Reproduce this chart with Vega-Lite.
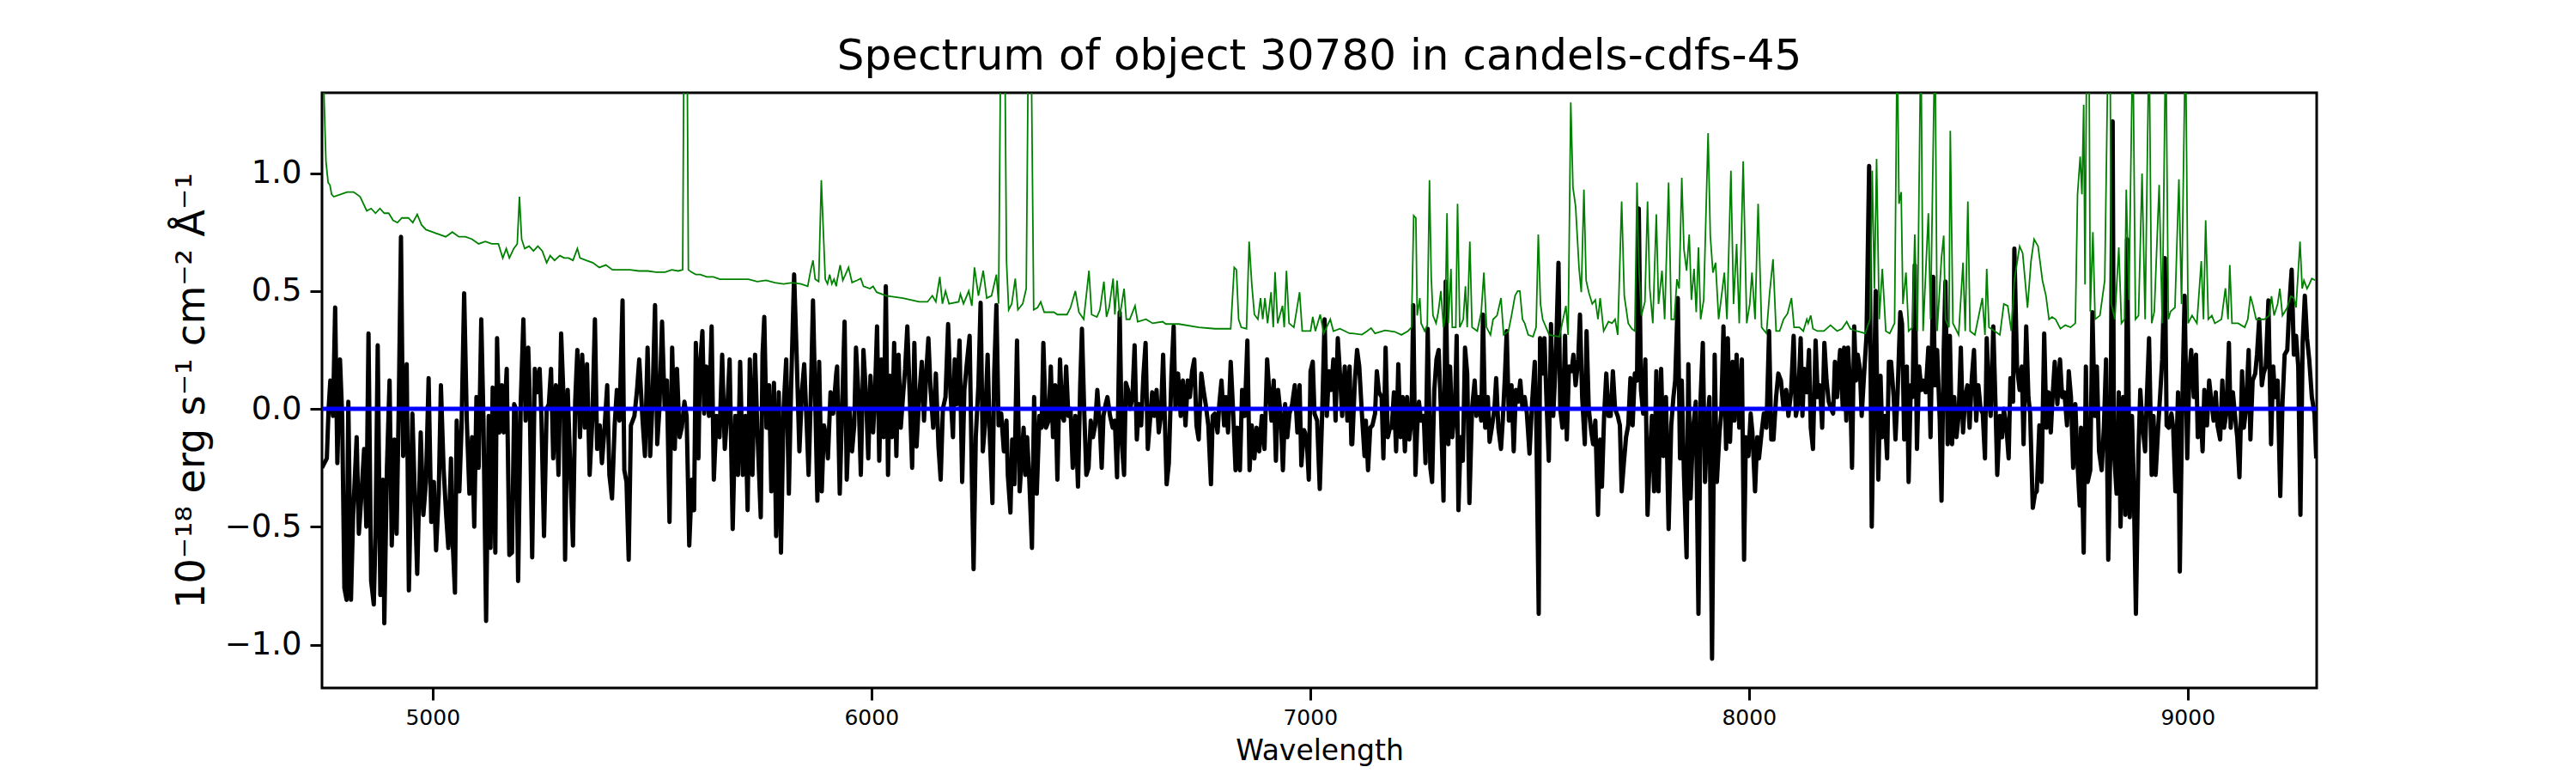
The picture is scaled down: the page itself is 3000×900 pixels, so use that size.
{
  "$schema": "https://vega.github.io/schema/vega-lite/v6.json",
  "autosize": "none",
  "width": 2323,
  "height": 693,
  "padding": {"left": 375, "top": 108, "right": 302, "bottom": 99},
  "background": "white",
  "title": {"text": "Spectrum of object 30780 in candels-cdfs-45", "font": "DejaVu Sans", "fontSize": 50, "fontWeight": "normal", "color": "black", "anchor": "middle", "offset": 17},
  "config": {
    "view": {"stroke": "black", "strokeWidth": 3},
    "axis": {"domain": false, "grid": false, "tickColor": "black", "tickWidth": 3, "tickSize": 14, "labelColor": "black", "labelFont": "DejaVu Sans", "titleFont": "DejaVu Sans", "titleColor": "black", "titleFontWeight": "normal"}
  },
  "datasets": {
    "obs": [
{"w":4748,"f":-0.25},{"w":4759,"f":-0.21},{"w":4763,"f":0.0},{"w":4767,"f":0.12},{"w":4773,"f":-0.03},{"w":4778,"f":0.43},{"w":4783,"f":-0.23},{"w":4789,"f":0.21},{"w":4794,"f":-0.03},{"w":4799,"f":-0.76},{"w":4804,"f":-0.81},{"w":4808,"f":0.03},{"w":4814,"f":-0.81},{"w":4819,"f":-0.45},{"w":4827,"f":-0.12},{"w":4832,"f":-0.53},{"w":4838,"f":-0.36},{"w":4844,"f":-0.17},{"w":4849,"f":-0.5},{"w":4854,"f":0.32},{"w":4860,"f":-0.73},{"w":4866,"f":-0.83},{"w":4870,"f":-0.53},{"w":4875,"f":0.27},{"w":4881,"f":-0.79},{"w":4887,"f":-0.3},{"w":4890,"f":-0.91},{"w":4896,"f":-0.25},{"w":4902,"f":0.12},{"w":4907,"f":-0.58},{"w":4913,"f":-0.13},{"w":4918,"f":-0.53},{"w":4923,"f":0.02},{"w":4928,"f":0.73},{"w":4933,"f":-0.2},{"w":4941,"f":0.19},{"w":4946,"f":-0.77},{"w":4954,"f":-0.02},{"w":4960,"f":-0.4},{"w":4965,"f":-0.7},{"w":4973,"f":-0.1},{"w":4979,"f":-0.45},{"w":4985,"f":-0.31},{"w":4991,"f":0.13},{"w":4997,"f":-0.48},{"w":5003,"f":-0.31},{"w":5008,"f":-0.6},{"w":5014,"f":-0.36},{"w":5019,"f":0.1},{"w":5025,"f":-0.25},{"w":5031,"f":-0.45},{"w":5036,"f":-0.59},{"w":5042,"f":-0.21},{"w":5045,"f":-0.53},{"w":5051,"f":-0.78},{"w":5055,"f":-0.05},{"w":5061,"f":-0.35},{"w":5066,"f":-0.08},{"w":5072,"f":0.49},{"w":5078,"f":-0.05},{"w":5084,"f":-0.36},{"w":5090,"f":-0.12},{"w":5095,"f":-0.5},{"w":5100,"f":0.05},{"w":5105,"f":-0.25},{"w":5111,"f":0.38},{"w":5116,"f":-0.05},{"w":5122,"f":-0.9},{"w":5128,"f":-0.03},{"w":5132,"f":-0.59},{"w":5137,"f":0.09},{"w":5143,"f":-0.61},{"w":5147,"f":0.3},{"w":5152,"f":-0.1},{"w":5158,"f":0.1},{"w":5162,"f":-0.1},{"w":5169,"f":0.17},{"w":5175,"f":-0.62},{"w":5181,"f":-0.61},{"w":5186,"f":0.02},{"w":5190,"f":0.0},{"w":5195,"f":-0.73},{"w":5201,"f":0.03},{"w":5207,"f":0.38},{"w":5212,"f":-0.05},{"w":5218,"f":0.26},{"w":5221,"f":0.08},{"w":5227,"f":-0.63},{"w":5233,"f":0.17},{"w":5239,"f":0.07},{"w":5244,"f":0.17},{"w":5248,"f":-0.03},{"w":5254,"f":-0.54},{"w":5260,"f":0.0},{"w":5265,"f":0.02},{"w":5270,"f":0.17},{"w":5275,"f":-0.21},{"w":5281,"f":0.1},{"w":5287,"f":-0.28},{"w":5293,"f":0.32},{"w":5299,"f":0.02},{"w":5302,"f":-0.64},{"w":5308,"f":0.08},{"w":5314,"f":-0.26},{"w":5320,"f":-0.58},{"w":5325,"f":0.03},{"w":5330,"f":0.25},{"w":5336,"f":-0.12},{"w":5341,"f":0.23},{"w":5347,"f":-0.08},{"w":5352,"f":0.19},{"w":5358,"f":-0.28},{"w":5364,"f":-0.05},{"w":5370,"f":0.38},{"w":5375,"f":-0.17},{"w":5381,"f":-0.07},{"w":5386,"f":-0.23},{"w":5392,"f":-0.08},{"w":5398,"f":0.1},{"w":5403,"f":-0.28},{"w":5409,"f":-0.38},{"w":5415,"f":-0.07},{"w":5420,"f":0.08},{"w":5426,"f":-0.05},{"w":5433,"f":0.46},{"w":5437,"f":-0.26},{"w":5442,"f":-0.31},{"w":5447,"f":-0.64},{"w":5452,"f":-0.07},{"w":5460,"f":-0.03},{"w":5466,"f":0.08},{"w":5471,"f":0.21},{"w":5478,"f":-0.03},{"w":5484,"f":-0.2},{"w":5490,"f":0.26},{"w":5496,"f":-0.2},{"w":5501,"f":0.02},{"w":5507,"f":0.44},{"w":5512,"f":-0.15},{"w":5517,"f":0.0},{"w":5523,"f":0.37},{"w":5529,"f":0.0},{"w":5534,"f":0.12},{"w":5540,"f":-0.48},{"w":5546,"f":0.26},{"w":5552,"f":-0.17},{"w":5557,"f":0.17},{"w":5563,"f":-0.12},{"w":5568,"f":-0.08},{"w":5574,"f":0.03},{"w":5579,"f":-0.03},{"w":5585,"f":-0.58},{"w":5591,"f":-0.3},{"w":5596,"f":-0.43},{"w":5600,"f":0.28},{"w":5606,"f":-0.21},{"w":5609,"f":0.17},{"w":5615,"f":0.33},{"w":5619,"f":-0.02},{"w":5624,"f":0.18},{"w":5630,"f":-0.03},{"w":5636,"f":0.35},{"w":5641,"f":-0.3},{"w":5647,"f":-0.03},{"w":5654,"f":-0.12},{"w":5660,"f":0.23},{"w":5666,"f":-0.17},{"w":5671,"f":-0.03},{"w":5677,"f":0.21},{"w":5684,"f":-0.51},{"w":5690,"f":-0.03},{"w":5696,"f":-0.28},{"w":5701,"f":0.2},{"w":5707,"f":-0.28},{"w":5713,"f":-0.03},{"w":5718,"f":-0.43},{"w":5723,"f":0.21},{"w":5729,"f":-0.28},{"w":5735,"f":0.23},{"w":5740,"f":-0.08},{"w":5748,"f":-0.46},{"w":5752,"f":0.23},{"w":5756,"f":0.39},{"w":5761,"f":-0.08},{"w":5767,"f":0.1},{"w":5772,"f":-0.35},{"w":5778,"f":0.11},{"w":5783,"f":-0.54},{"w":5789,"f":0.07},{"w":5794,"f":-0.61},{"w":5800,"f":0.0},{"w":5806,"f":0.21},{"w":5812,"f":-0.36},{"w":5817,"f":0.08},{"w":5824,"f":0.57},{"w":5830,"f":0.21},{"w":5836,"f":-0.18},{"w":5842,"f":0.08},{"w":5847,"f":0.19},{"w":5853,"f":-0.08},{"w":5857,"f":-0.28},{"w":5862,"f":0.05},{"w":5867,"f":0.46},{"w":5872,"f":0.05},{"w":5877,"f":-0.39},{"w":5881,"f":0.2},{"w":5887,"f":-0.35},{"w":5892,"f":-0.07},{"w":5898,"f":-0.13},{"w":5901,"f":-0.21},{"w":5907,"f":0.07},{"w":5913,"f":-0.02},{"w":5920,"f":0.15},
{"w":5922,"f":0.18},{"w":5928,"f":-0.36},{"w":5933,"f":-0.02},{"w":5939,"f":0.37},{"w":5944,"f":-0.3},{"w":5950,"f":0.0},{"w":5956,"f":-0.18},{"w":5961,"f":-0.07},{"w":5965,"f":0.26},{"w":5971,"f":0.05},{"w":5976,"f":-0.28},{"w":5982,"f":0.25},{"w":5988,"f":0.05},{"w":5993,"f":-0.21},{"w":5998,"f":0.14},{"w":6004,"f":-0.1},{"w":6008,"f":0.05},{"w":6013,"f":0.35},{"w":6018,"f":-0.22},{"w":6023,"f":0.21},{"w":6028,"f":-0.12},{"w":6033,"f":0.52},{"w":6038,"f":-0.28},{"w":6042,"f":0.14},{"w":6047,"f":-0.12},{"w":6052,"f":0.28},{"w":6057,"f":-0.2},{"w":6062,"f":0.23},{"w":6067,"f":-0.08},{"w":6072,"f":0.05},{"w":6077,"f":0.17},{"w":6082,"f":0.35},{"w":6087,"f":0.08},{"w":6093,"f":-0.25},{"w":6098,"f":0.28},{"w":6103,"f":-0.16},{"w":6109,"f":0.05},{"w":6115,"f":0.2},{"w":6120,"f":-0.05},{"w":6126,"f":0.18},{"w":6130,"f":0.3},{"w":6135,"f":0.08},{"w":6141,"f":-0.08},{"w":6147,"f":0.15},{"w":6153,"f":-0.16},{"w":6158,"f":-0.3},{"w":6163,"f":0.0},{"w":6169,"f":0.05},{"w":6175,"f":0.36},{"w":6180,"f":0.08},{"w":6186,"f":-0.12},{"w":6190,"f":0.21},{"w":6195,"f":0.02},{"w":6201,"f":0.29},{"w":6207,"f":-0.31},{"w":6212,"f":0.08},{"w":6218,"f":0.2},{"w":6224,"f":0.31},{"w":6229,"f":-0.28},{"w":6233,"f":-0.68},{"w":6238,"f":-0.12},{"w":6244,"f":0.1},{"w":6249,"f":0.45},{"w":6254,"f":-0.18},{"w":6259,"f":-0.07},{"w":6265,"f":0.23},{"w":6270,"f":-0.12},{"w":6276,"f":-0.4},{"w":6280,"f":0.15},{"w":6285,"f":0.44},{"w":6290,"f":-0.07},{"w":6296,"f":-0.02},{"w":6302,"f":-0.18},{"w":6308,"f":-0.05},{"w":6311,"f":-0.28},{"w":6317,"f":-0.44},{"w":6321,"f":-0.13},{"w":6326,"f":-0.32},{"w":6332,"f":0.29},{"w":6338,"f":-0.35},{"w":6341,"f":-0.26},{"w":6347,"f":-0.08},{"w":6351,"f":-0.28},{"w":6355,"f":-0.12},{"w":6360,"f":-0.3},{"w":6366,"f":-0.59},{"w":6371,"f":0.05},{"w":6377,"f":-0.36},{"w":6383,"f":-0.03},{"w":6388,"f":-0.08},{"w":6392,"f":0.28},{"w":6398,"f":-0.08},{"w":6404,"f":-0.05},{"w":6409,"f":0.18},{"w":6414,"f":-0.12},{"w":6419,"f":0.1},{"w":6424,"f":-0.3},{"w":6430,"f":0.21},{"w":6435,"f":-0.03},{"w":6439,"f":-0.05},{"w":6444,"f":0.18},{"w":6449,"f":-0.03},{"w":6454,"f":0.0},{"w":6459,"f":-0.25},{"w":6465,"f":-0.03},{"w":6471,"f":-0.33},{"w":6476,"f":0.1},{"w":6480,"f":0.34},{"w":6485,"f":0.0},{"w":6490,"f":-0.28},{"w":6495,"f":-0.25},{"w":6500,"f":-0.05},{"w":6505,"f":-0.12},{"w":6510,"f":-0.07},{"w":6515,"f":0.08},{"w":6521,"f":-0.08},{"w":6525,"f":-0.25},{"w":6529,"f":-0.03},{"w":6534,"f":0.02},{"w":6538,"f":0.05},{"w":6544,"f":-0.03},{"w":6550,"f":-0.08},{"w":6555,"f":-0.05},{"w":6560,"f":-0.29},{"w":6566,"f":0.41},{"w":6571,"f":-0.15},{"w":6576,"f":-0.28},{"w":6580,"f":0.11},{"w":6585,"f":0.08},{"w":6590,"f":0.0},{"w":6595,"f":0.05},{"w":6600,"f":0.27},{"w":6605,"f":-0.13},{"w":6610,"f":0.02},{"w":6615,"f":-0.07},{"w":6620,"f":0.14},{"w":6625,"f":0.28},{"w":6630,"f":-0.17},{"w":6635,"f":-0.05},{"w":6640,"f":0.07},{"w":6645,"f":-0.03},{"w":6650,"f":0.08},{"w":6655,"f":-0.1},{"w":6660,"f":-0.03},{"w":6665,"f":0.23},{"w":6669,"f":-0.05},{"w":6673,"f":-0.32},{"w":6678,"f":-0.23},{"w":6684,"f":0.15},{"w":6689,"f":0.35},{"w":6693,"f":0.0},{"w":6699,"f":0.15},{"w":6705,"f":-0.03},{"w":6710,"f":0.12},{"w":6716,"f":-0.07},{"w":6721,"f":0.12},{"w":6726,"f":0.05},{"w":6731,"f":0.16},{"w":6736,"f":0.21},{"w":6741,"f":-0.07},{"w":6746,"f":-0.13},{"w":6752,"f":0.15},{"w":6757,"f":0.08},{"w":6762,"f":0.02},{"w":6768,"f":-0.07},{"w":6774,"f":-0.32},{"w":6778,"f":-0.03},{"w":6783,"f":-0.02},{"w":6789,"f":-0.1},{"w":6793,"f":0.02},{"w":6798,"f":0.12},{"w":6804,"f":-0.07},{"w":6808,"f":0.05},{"w":6813,"f":-0.1},{"w":6819,"f":0.2},{"w":6825,"f":-0.03},{"w":6830,"f":-0.26},{"w":6834,"f":-0.08},{"w":6840,"f":-0.26},{"w":6845,"f":0.08},{"w":6851,"f":-0.03},{"w":6857,"f":0.29},{"w":6862,"f":-0.26},{"w":6867,"f":-0.07},{"w":6873,"f":-0.21},{"w":6878,"f":-0.08},{"w":6884,"f":-0.18},{"w":6890,"f":-0.03},{"w":6896,"f":-0.17},{"w":6902,"f":0.21},{"w":6907,"f":0.07},{"w":6912,"f":-0.05},{"w":6917,"f":0.12},{"w":6922,"f":-0.22},{"w":6927,"f":0.08},{"w":6933,"f":-0.03},{"w":6938,"f":-0.26},{"w":6943,"f":0.02},{"w":6948,"f":-0.12},{"w":6953,"f":-0.02},{"w":6959,"f":0.02},{"w":6965,"f":0.1},{"w":6971,"f":-0.1},{"w":6976,"f":0.1},{"w":6980,"f":-0.24},{"w":6986,"f":-0.09},{"w":6992,"f":-0.12},{"w":6997,"f":-0.3},{"w":7001,"f":0.16},{"w":7006,"f":0.2},{"w":7010,"f":-0.02},{"w":7016,"f":-0.05},{"w":7022,"f":-0.34},{"w":7027,"f":-0.05},{"w":7033,"f":0.38},{"w":7038,"f":-0.03},{"w":7043,"f":0.16},{"w":7048,"f":0.08},{"w":7053,"f":0.21},{"w":7058,"f":-0.05},{"w":7063,"f":0.3},{"w":7068,"f":0.15},{"w":7073,"f":-0.03},{"w":7079,"f":0.18},{"w":7085,"f":-0.05},{"w":7090,"f":0.18},{"w":7094,"f":-0.15},
{"w":7096,"f":-0.15},{"w":7102,"f":0.12},{"w":7107,"f":0.25},{"w":7112,"f":0.18},{"w":7118,"f":-0.02},{"w":7124,"f":-0.2},{"w":7127,"f":-0.05},{"w":7132,"f":-0.26},{"w":7137,"f":-0.08},{"w":7142,"f":-0.07},{"w":7148,"f":-0.02},{"w":7152,"f":0.16},{"w":7157,"f":0.07},{"w":7163,"f":0.05},{"w":7167,"f":-0.21},{"w":7172,"f":0.26},{"w":7177,"f":-0.12},{"w":7182,"f":-0.08},{"w":7186,"f":-0.08},{"w":7191,"f":0.07},{"w":7196,"f":-0.18},{"w":7201,"f":0.19},{"w":7206,"f":-0.12},{"w":7211,"f":0.05},{"w":7216,"f":-0.18},{"w":7221,"f":0.05},{"w":7226,"f":-0.13},{"w":7231,"f":-0.05},{"w":7235,"f":0.44},{"w":7240,"f":-0.28},{"w":7244,"f":-0.08},{"w":7248,"f":0.03},{"w":7253,"f":-0.05},{"w":7259,"f":-0.03},{"w":7263,"f":-0.23},{"w":7268,"f":0.34},{"w":7274,"f":-0.25},{"w":7278,"f":-0.31},{"w":7283,"f":0.08},{"w":7288,"f":0.21},{"w":7293,"f":0.25},{"w":7298,"f":0.0},{"w":7304,"f":-0.39},{"w":7309,"f":0.54},{"w":7315,"f":-0.15},{"w":7319,"f":0.18},{"w":7324,"f":-0.12},{"w":7330,"f":0.0},{"w":7334,"f":0.31},{"w":7338,"f":-0.43},{"w":7343,"f":-0.12},{"w":7348,"f":-0.22},{"w":7353,"f":0.26},{"w":7358,"f":0.15},{"w":7363,"f":-0.4},{"w":7369,"f":0.0},{"w":7375,"f":0.12},{"w":7379,"f":-0.03},{"w":7384,"f":0.05},{"w":7390,"f":-0.05},{"w":7394,"f":0.4},{"w":7399,"f":-0.08},{"w":7405,"f":0.05},{"w":7409,"f":-0.14},{"w":7414,"f":-0.08},{"w":7420,"f":0.0},{"w":7424,"f":0.13},{"w":7429,"f":-0.08},{"w":7435,"f":-0.17},{"w":7439,"f":-0.05},{"w":7444,"f":0.14},{"w":7448,"f":0.33},{"w":7453,"f":-0.05},{"w":7459,"f":0.1},{"w":7464,"f":-0.18},{"w":7469,"f":0.08},{"w":7474,"f":0.03},{"w":7479,"f":0.12},{"w":7484,"f":0.0},{"w":7489,"f":0.05},{"w":7494,"f":-0.02},{"w":7500,"f":-0.19},{"w":7506,"f":0.03},{"w":7512,"f":0.2},{"w":7515,"f":0.0},{"w":7521,"f":-0.87},{"w":7524,"f":0.3},{"w":7530,"f":0.15},{"w":7534,"f":0.3},{"w":7539,"f":0.02},{"w":7544,"f":-0.22},{"w":7549,"f":0.36},{"w":7554,"f":-0.03},{"w":7560,"f":0.21},{"w":7566,"f":0.62},{"w":7570,"f":0.0},{"w":7575,"f":-0.08},{"w":7581,"f":0.31},{"w":7585,"f":-0.13},{"w":7590,"f":0.18},{"w":7596,"f":0.16},{"w":7600,"f":0.23},{"w":7605,"f":0.1},{"w":7611,"f":0.21},{"w":7615,"f":0.4},{"w":7620,"f":0.05},{"w":7626,"f":-0.15},{"w":7630,"f":0.33},{"w":7635,"f":0.0},{"w":7641,"f":-0.1},{"w":7645,"f":-0.15},{"w":7650,"f":-0.05},{"w":7656,"f":-0.45},{"w":7661,"f":-0.13},{"w":7665,"f":-0.33},{"w":7670,"f":-0.03},{"w":7675,"f":0.15},{"w":7680,"f":-0.03},{"w":7685,"f":-0.03},{"w":7690,"f":0.16},{"w":7695,"f":0.0},{"w":7701,"f":-0.03},{"w":7706,"f":-0.07},{"w":7710,"f":-0.35},{"w":7715,"f":-0.23},{"w":7720,"f":-0.12},{"w":7725,"f":-0.07},{"w":7730,"f":0.13},{"w":7735,"f":-0.07},{"w":7740,"f":0.15},{"w":7745,"f":0.12},{"w":7749,"f":0.85},{"w":7754,"f":0.08},{"w":7759,"f":-0.02},{"w":7764,"f":0.21},{"w":7769,"f":-0.45},{"w":7774,"f":-0.21},{"w":7779,"f":-0.03},{"w":7784,"f":-0.35},{"w":7789,"f":0.16},{"w":7794,"f":-0.35},{"w":7800,"f":0.17},{"w":7805,"f":-0.2},{"w":7811,"f":0.05},{"w":7817,"f":-0.51},{"w":7823,"f":-0.07},{"w":7828,"f":0.05},{"w":7832,"f":0.12},{"w":7838,"f":0.47},{"w":7843,"f":-0.21},{"w":7847,"f":0.12},{"w":7852,"f":-0.28},{"w":7858,"f":-0.63},{"w":7862,"f":0.19},{"w":7867,"f":-0.38},{"w":7873,"f":-0.08},{"w":7879,"f":0.03},{"w":7885,"f":-0.87},{"w":7890,"f":0.05},{"w":7895,"f":0.28},{"w":7900,"f":-0.31},{"w":7905,"f":-0.07},{"w":7910,"f":0.05},{"w":7916,"f":-1.06},{"w":7922,"f":0.23},{"w":7927,"f":-0.31},{"w":7933,"f":-0.1},{"w":7937,"f":-0.02},{"w":7942,"f":0.35},{"w":7948,"f":-0.17},{"w":7952,"f":0.3},{"w":7957,"f":-0.14},{"w":7963,"f":0.2},{"w":7967,"f":-0.05},{"w":7972,"f":0.23},{"w":7978,"f":-0.08},{"w":7984,"f":0.21},{"w":7989,"f":-0.64},{"w":7993,"f":-0.12},{"w":7999,"f":-0.2},{"w":8004,"f":-0.02},{"w":8008,"f":-0.1},{"w":8014,"f":-0.35},{"w":8019,"f":-0.12},{"w":8023,"f":-0.21},{"w":8029,"f":-0.1},{"w":8034,"f":-0.02},{"w":8040,"f":-0.08},{"w":8046,"f":0.33},{"w":8051,"f":-0.13},{"w":8056,"f":-0.13},{"w":8062,"f":0.05},{"w":8067,"f":0.15},{"w":8073,"f":0.12},{"w":8079,"f":0.0},{"w":8085,"f":0.08},{"w":8090,"f":-0.03},{"w":8096,"f":0.07},{"w":8102,"f":0.31},{"w":8107,"f":-0.03},{"w":8112,"f":0.02},{"w":8118,"f":0.3},{"w":8122,"f":-0.03},
{"w":8126,"f":0.17},{"w":8132,"f":0.07},{"w":8137,"f":0.25},{"w":8141,"f":-0.08},{"w":8146,"f":-0.17},{"w":8152,"f":0.29},{"w":8157,"f":0.05},{"w":8162,"f":0.1},{"w":8167,"f":-0.08},{"w":8172,"f":0.28},{"w":8177,"f":0.12},{"w":8182,"f":0.03},{"w":8187,"f":0.0},{"w":8192,"f":-0.02},{"w":8196,"f":0.2},{"w":8201,"f":0.05},{"w":8205,"f":0.18},{"w":8208,"f":0.25},{"w":8214,"f":0.0},{"w":8217,"f":0.26},{"w":8222,"f":-0.05},{"w":8226,"f":0.26},{"w":8231,"f":0.08},{"w":8235,"f":-0.25},{"w":8240,"f":0.35},{"w":8244,"f":0.12},{"w":8248,"f":0.23},{"w":8253,"f":0.17},{"w":8257,"f":-0.03},{"w":8262,"f":0.13},{"w":8268,"f":0.31},{"w":8274,"f":1.03},{"w":8280,"f":-0.5},{"w":8285,"f":0.08},{"w":8289,"f":0.5},{"w":8295,"f":-0.3},{"w":8300,"f":0.14},{"w":8304,"f":-0.12},{"w":8310,"f":-0.03},{"w":8315,"f":-0.21},{"w":8319,"f":0.2},{"w":8324,"f":0.2},{"w":8330,"f":0.05},{"w":8334,"f":-0.13},{"w":8339,"f":0.07},{"w":8345,"f":0.41},{"w":8349,"f":0.36},{"w":8354,"f":-0.13},{"w":8360,"f":0.18},{"w":8364,"f":-0.31},{"w":8369,"f":0.1},{"w":8373,"f":0.05},{"w":8378,"f":0.61},{"w":8383,"f":-0.17},{"w":8388,"f":0.18},{"w":8393,"f":0.08},{"w":8398,"f":0.12},{"w":8403,"f":0.07},{"w":8409,"f":0.26},{"w":8414,"f":-0.12},{"w":8420,"f":0.56},{"w":8424,"f":0.1},{"w":8429,"f":0.25},{"w":8435,"f":-0.05},{"w":8439,"f":-0.39},{"w":8444,"f":0.25},{"w":8448,"f":0.54},{"w":8453,"f":-0.15},{"w":8458,"f":0.31},{"w":8463,"f":-0.15},{"w":8468,"f":0.05},{"w":8473,"f":-0.12},{"w":8478,"f":-0.03},{"w":8483,"f":0.26},{"w":8488,"f":-0.1},{"w":8493,"f":0.05},{"w":8498,"f":0.1},{"w":8503,"f":-0.08},{"w":8508,"f":0.13},{"w":8513,"f":0.25},{"w":8518,"f":-0.05},{"w":8523,"f":0.1},{"w":8528,"f":0.0},{"w":8533,"f":-0.02},{"w":8538,"f":-0.21},{"w":8542,"f":0.3},{"w":8547,"f":0.05},{"w":8551,"f":-0.03},{"w":8557,"f":0.35},{"w":8562,"f":0.02},{"w":8566,"f":-0.28},{"w":8572,"f":-0.03},{"w":8577,"f":-0.12},{"w":8581,"f":0.0},{"w":8587,"f":-0.08},{"w":8592,"f":-0.21},{"w":8596,"f":0.13},{"w":8602,"f":0.03},{"w":8605,"f":0.68},{"w":8611,"f":0.18},{"w":8617,"f":0.08},{"w":8622,"f":0.18},{"w":8626,"f":-0.15},{"w":8632,"f":0.35},{"w":8637,"f":0.05},{"w":8641,"f":-0.02},{"w":8647,"f":-0.42},{"w":8652,"f":-0.36},{"w":8656,"f":-0.35},{"w":8662,"f":-0.07},{"w":8667,"f":-0.31},{"w":8673,"f":0.32},{"w":8678,"f":-0.08},{"w":8683,"f":0.07},{"w":8688,"f":-0.1},{"w":8693,"f":0.08},{"w":8697,"f":0.2},{"w":8703,"f":0.02},{"w":8709,"f":0.21},{"w":8714,"f":0.05},{"w":8719,"f":0.07},{"w":8725,"f":-0.07},{"w":8729,"f":0.16},{"w":8734,"f":0.05},{"w":8739,"f":-0.25},{"w":8744,"f":0.02},{"w":8749,"f":-0.23},{"w":8754,"f":-0.41},{"w":8757,"f":-0.08},{"w":8763,"f":-0.61},{"w":8768,"f":0.18},{"w":8772,"f":-0.31},{"w":8778,"f":-0.26},{"w":8783,"f":0.41},{"w":8788,"f":-0.03},{"w":8793,"f":0.18},{"w":8798,"f":-0.18},{"w":8804,"f":-0.26},{"w":8809,"f":-0.08},{"w":8814,"f":0.21},{"w":8819,"f":-0.64},{"w":8824,"f":-0.15},{"w":8829,"f":1.22},{"w":8832,"f":-0.18},{"w":8838,"f":-0.36},{"w":8843,"f":0.07},{"w":8847,"f":-0.5},{"w":8853,"f":0.05},{"w":8858,"f":-0.45},{"w":8862,"f":0.72},{"w":8868,"f":-0.46},{"w":8873,"f":-0.03},{"w":8877,"f":-0.31},{"w":8882,"f":-0.87},{"w":8888,"f":-0.17},{"w":8892,"f":0.08},{"w":8897,"f":-0.07},{"w":8903,"f":-0.18},{"w":8907,"f":0.05},{"w":8912,"f":0.3},{"w":8918,"f":-0.28},{"w":8922,"f":-0.03},{"w":8927,"f":-0.28},{"w":8933,"f":-0.07},{"w":8937,"f":0.05},{"w":8942,"f":0.21},{"w":8948,"f":0.64},{"w":8952,"f":-0.07},{"w":8957,"f":-0.08},{"w":8963,"f":-0.02},{"w":8967,"f":-0.08},{"w":8972,"f":-0.35},{"w":8978,"f":0.07},{"w":8982,"f":-0.69},{"w":8987,"f":-0.05},{"w":8993,"f":0.48},{"w":8999,"f":-0.21},{"w":9004,"f":0.16},{"w":9008,"f":0.25},{"w":9014,"f":0.05},{"w":9019,"f":0.23},{"w":9023,"f":-0.12},{"w":9029,"f":0.0},{"w":9034,"f":-0.18},{"w":9038,"f":0.08},{"w":9044,"f":-0.07},{"w":9049,"f":0.12},{"w":9053,"f":0.05},{"w":9059,"f":-0.05},{"w":9064,"f":0.07},{"w":9068,"f":-0.07},{"w":9074,"f":-0.13},{"w":9079,"f":0.12},{"w":9083,"f":-0.08},{"w":9088,"f":-0.02},{"w":9094,"f":0.28},{"w":9098,"f":-0.08},{"w":9103,"f":0.07},{"w":9109,"f":-0.05},{"w":9113,"f":-0.12},{"w":9118,"f":-0.29},{"w":9124,"f":0.16},{"w":9128,"f":-0.08},{"w":9133,"f":0.0},{"w":9139,"f":0.25},{"w":9143,"f":-0.13},{"w":9148,"f":0.12},{"w":9154,"f":0.15},{"w":9158,"f":0.23},{"w":9163,"f":0.38},{"w":9169,"f":0.1},{"w":9173,"f":0.15},{"w":9178,"f":0.18},{"w":9184,"f":0.46},{"w":9190,"f":-0.15},{"w":9195,"f":0.18},{"w":9199,"f":0.05},{"w":9205,"f":0.12},{"w":9211,"f":-0.37},{"w":9216,"f":0.02},{"w":9221,"f":0.23},{"w":9227,"f":0.25},{"w":9232,"f":0.45},{"w":9237,"f":0.59},{"w":9242,"f":0.23},{"w":9247,"f":0.31},{"w":9252,"f":0.18},{"w":9257,"f":-0.45},{"w":9262,"f":0.28},{"w":9267,"f":0.48},{"w":9272,"f":0.3},{"w":9277,"f":0.21},{"w":9283,"f":0.05},{"w":9289,"f":-0.02},{"w":9293,"f":-0.21}
    ],
    "model": [
{"w":4749,"f":1.6},{"w":4753,"f":1.3},{"w":4757,"f":1.05},{"w":4762,"f":0.96},{"w":4766,"f":0.95},{"w":4770,"f":0.91},{"w":4775,"f":0.9},{"w":4790,"f":0.91},{"w":4805,"f":0.92},{"w":4820,"f":0.92},{"w":4835,"f":0.9},{"w":4850,"f":0.84},{"w":4860,"f":0.85},{"w":4870,"f":0.83},{"w":4880,"f":0.85},{"w":4890,"f":0.83},{"w":4900,"f":0.83},{"w":4910,"f":0.8},{"w":4920,"f":0.79},{"w":4930,"f":0.81},{"w":4945,"f":0.81},{"w":4955,"f":0.79},{"w":4965,"f":0.825},{"w":4975,"f":0.78},{"w":4985,"f":0.76},{"w":5000,"f":0.75},{"w":5015,"f":0.74},{"w":5030,"f":0.73},{"w":5045,"f":0.75},{"w":5060,"f":0.73},{"w":5075,"f":0.73},{"w":5090,"f":0.72},{"w":5105,"f":0.7},{"w":5120,"f":0.71},{"w":5135,"f":0.7},{"w":5150,"f":0.7},{"w":5160,"f":0.64},{"w":5168,"f":0.68},{"w":5175,"f":0.64},{"w":5185,"f":0.68},{"w":5193,"f":0.7},{"w":5198,"f":0.9},{"w":5203,"f":0.72},{"w":5210,"f":0.68},{"w":5220,"f":0.69},{"w":5230,"f":0.67},{"w":5240,"f":0.69},{"w":5250,"f":0.67},{"w":5260,"f":0.62},{"w":5268,"f":0.65},{"w":5278,"f":0.63},{"w":5290,"f":0.65},{"w":5300,"f":0.64},{"w":5310,"f":0.64},{"w":5320,"f":0.63},{"w":5330,"f":0.68},{"w":5336,"f":0.64},{"w":5350,"f":0.63},{"w":5365,"f":0.62},{"w":5380,"f":0.6},{"w":5395,"f":0.61},{"w":5410,"f":0.59},{"w":5430,"f":0.59},{"w":5450,"f":0.59},{"w":5470,"f":0.585},{"w":5490,"f":0.585},{"w":5510,"f":0.58},{"w":5530,"f":0.58},{"w":5545,"f":0.59},{"w":5560,"f":0.585},{"w":5570,"f":0.59},{"w":5573,"f":1.6},{"w":5580,"f":1.6},{"w":5583,"f":0.59},{"w":5590,"f":0.58},{"w":5600,"f":0.57},{"w":5610,"f":0.57},{"w":5625,"f":0.56},{"w":5640,"f":0.56},{"w":5655,"f":0.55},{"w":5675,"f":0.55},{"w":5700,"f":0.55},{"w":5720,"f":0.55},{"w":5740,"f":0.54},{"w":5760,"f":0.545},{"w":5780,"f":0.535},{"w":5800,"f":0.53},{"w":5820,"f":0.535},{"w":5840,"f":0.53},{"w":5855,"f":0.52},{"w":5862,"f":0.59},{"w":5867,"f":0.63},{"w":5872,"f":0.55},{"w":5880,"f":0.54},{"w":5886,"f":0.97},{"w":5890,"f":0.78},{"w":5895,"f":0.55},{"w":5900,"f":0.53},{"w":5905,"f":0.57},{"w":5910,"f":0.53},{"w":5915,"f":0.55},{"w":5920,"f":0.52},
{"w":5922,"f":0.545},{"w":5929,"f":0.61},{"w":5935,"f":0.545},{"w":5941,"f":0.57},{"w":5948,"f":0.6},{"w":5956,"f":0.536},{"w":5967,"f":0.545},{"w":5976,"f":0.553},{"w":5982,"f":0.52},{"w":5997,"f":0.51},{"w":6004,"f":0.52},{"w":6012,"f":0.495},{"w":6034,"f":0.48},{"w":6072,"f":0.47},{"w":6109,"f":0.454},{"w":6128,"f":0.454},{"w":6139,"f":0.48},{"w":6147,"f":0.454},{"w":6156,"f":0.56},{"w":6162,"f":0.446},{"w":6169,"f":0.5},{"w":6177,"f":0.446},{"w":6199,"f":0.454},{"w":6203,"f":0.487},{"w":6210,"f":0.446},{"w":6222,"f":0.5},{"w":6229,"f":0.437},{"w":6235,"f":0.6},{"w":6244,"f":0.48},{"w":6255,"f":0.586},{"w":6263,"f":0.47},{"w":6274,"f":0.48},{"w":6285,"f":0.57},{"w":6290,"f":0.446},{"w":6295,"f":1.6},{"w":6304,"f":1.6},{"w":6308,"f":0.627},{"w":6313,"f":0.42},{"w":6320,"f":0.446},{"w":6328,"f":0.553},{"w":6334,"f":0.42},{"w":6345,"f":0.446},{"w":6353,"f":0.51},{"w":6358,"f":1.6},{"w":6364,"f":1.6},{"w":6370,"f":0.42},{"w":6379,"f":0.43},{"w":6386,"f":0.454},{"w":6394,"f":0.41},{"w":6416,"f":0.41},{"w":6424,"f":0.4},{"w":6446,"f":0.4},{"w":6454,"f":0.43},{"w":6465,"f":0.5},{"w":6473,"f":0.41},{"w":6484,"f":0.38},{"w":6496,"f":0.586},{"w":6502,"f":0.4},{"w":6514,"f":0.39},{"w":6521,"f":0.42},{"w":6530,"f":0.54},{"w":6536,"f":0.39},{"w":6542,"f":0.43},{"w":6551,"f":0.553},{"w":6555,"f":0.4},{"w":6560,"f":0.545},{"w":6566,"f":0.39},{"w":6576,"f":0.51},{"w":6581,"f":0.38},{"w":6589,"f":0.38},{"w":6601,"f":0.437},{"w":6607,"f":0.37},{"w":6626,"f":0.38},{"w":6641,"f":0.363},{"w":6664,"f":0.37},{"w":6671,"f":0.36},{"w":6701,"f":0.36},{"w":6746,"f":0.346},{"w":6783,"f":0.34},{"w":6819,"f":0.34},{"w":6827,"f":0.6},{"w":6832,"f":0.59},{"w":6837,"f":0.38},{"w":6843,"f":0.346},{"w":6855,"f":0.34},{"w":6861,"f":0.71},{"w":6867,"f":0.53},{"w":6873,"f":0.4},{"w":6881,"f":0.38},{"w":6887,"f":0.47},{"w":6892,"f":0.38},{"w":6897,"f":0.47},{"w":6903,"f":0.363},{"w":6911,"f":0.495},{"w":6916,"f":0.346},{"w":6920,"f":0.58},{"w":6926,"f":0.363},{"w":6937,"f":0.437},{"w":6941,"f":0.346},{"w":6946,"f":0.586},{"w":6952,"f":0.363},{"w":6963,"f":0.346},{"w":6976,"f":0.495},{"w":6982,"f":0.33},{"w":7001,"f":0.33},{"w":7006,"f":0.39},{"w":7012,"f":0.33},{"w":7023,"f":0.4},{"w":7031,"f":0.32},{"w":7046,"f":0.38},{"w":7053,"f":0.33},{"w":7068,"f":0.34},{"w":7090,"f":0.32},
{"w":7096,"f":0.32},{"w":7118,"f":0.315},{"w":7130,"f":0.33},{"w":7139,"f":0.343},{"w":7148,"f":0.32},{"w":7171,"f":0.333},{"w":7193,"f":0.327},{"w":7208,"f":0.314},{"w":7223,"f":0.33},{"w":7231,"f":0.346},{"w":7236,"f":0.82},{"w":7241,"f":0.81},{"w":7244,"f":0.396},{"w":7250,"f":0.47},{"w":7253,"f":0.363},{"w":7261,"f":0.33},{"w":7267,"f":0.355},{"w":7272,"f":0.97},{"w":7276,"f":0.56},{"w":7280,"f":0.396},{"w":7287,"f":0.363},{"w":7292,"f":0.41},{"w":7298,"f":0.5},{"w":7304,"f":0.346},{"w":7308,"f":0.396},{"w":7312,"f":0.83},{"w":7315,"f":0.363},{"w":7321,"f":0.594},{"w":7324,"f":0.346},{"w":7332,"f":0.346},{"w":7336,"f":0.87},{"w":7341,"f":0.346},{"w":7349,"f":0.38},{"w":7354,"f":0.52},{"w":7358,"f":0.346},{"w":7364,"f":0.71},{"w":7369,"f":0.346},{"w":7381,"f":0.33},{"w":7390,"f":0.41},{"w":7396,"f":0.578},{"w":7402,"f":0.346},{"w":7411,"f":0.314},{"w":7417,"f":0.38},{"w":7426,"f":0.396},{"w":7435,"f":0.47},{"w":7441,"f":0.314},{"w":7452,"f":0.33},{"w":7459,"f":0.396},{"w":7467,"f":0.48},{"w":7473,"f":0.5},{"w":7478,"f":0.5},{"w":7484,"f":0.38},{"w":7489,"f":0.363},{"w":7497,"f":0.314},{"w":7508,"f":0.306},{"w":7515,"f":0.346},{"w":7520,"f":0.74},{"w":7525,"f":0.445},{"w":7530,"f":0.38},{"w":7545,"f":0.314},{"w":7568,"f":0.306},{"w":7583,"f":0.437},{"w":7588,"f":0.314},{"w":7594,"f":1.3},{"w":7599,"f":0.94},{"w":7605,"f":0.86},{"w":7613,"f":0.594},{"w":7618,"f":0.495},{"w":7624,"f":0.93},{"w":7629,"f":0.545},{"w":7635,"f":0.495},{"w":7643,"f":0.445},{"w":7650,"f":0.462},{"w":7656,"f":0.38},{"w":7661,"f":0.47},{"w":7669,"f":0.33},{"w":7680,"f":0.37},{"w":7688,"f":0.363},{"w":7695,"f":0.38},{"w":7701,"f":0.314},{"w":7710,"f":0.88},{"w":7716,"f":0.48},{"w":7725,"f":0.363},{"w":7733,"f":0.34},{"w":7740,"f":0.33},{"w":7745,"f":0.96},{"w":7749,"f":0.61},{"w":7755,"f":0.396},{"w":7763,"f":0.454},{"w":7769,"f":0.88},{"w":7774,"f":0.512},{"w":7781,"f":0.363},{"w":7789,"f":0.825},{"w":7794,"f":0.445},{"w":7802,"f":0.586},{"w":7808,"f":0.38},{"w":7817,"f":0.96},{"w":7823,"f":0.38},{"w":7830,"f":0.38},{"w":7836,"f":0.55},{"w":7841,"f":0.51},{"w":7847,"f":0.98},{"w":7852,"f":0.676},{"w":7858,"f":0.586},{"w":7864,"f":0.74},{"w":7869,"f":0.462},{"w":7875,"f":0.594},{"w":7880,"f":0.41},{"w":7885,"f":0.685},{"w":7890,"f":0.38},{"w":7897,"f":0.462},{"w":7907,"f":1.17},{"w":7912,"f":0.735},{"w":7918,"f":0.578},{"w":7924,"f":0.62},{"w":7931,"f":0.38},{"w":7939,"f":0.5},{"w":7944,"f":0.578},{"w":7950,"f":0.38},{"w":7959,"f":1.01},{"w":7965,"f":0.445},{"w":7972,"f":0.7},{"w":7978,"f":0.363},{"w":7987,"f":1.05},{"w":7995,"f":0.363},{"w":8002,"f":0.445},{"w":8007,"f":0.578},{"w":8014,"f":0.38},{"w":8021,"f":0.87},{"w":8029,"f":0.346},{"w":8040,"f":0.32},{"w":8047,"f":0.487},{"w":8055,"f":0.635},{"w":8062,"f":0.33},{"w":8070,"f":0.33},{"w":8079,"f":0.38},{"w":8088,"f":0.404},{"w":8097,"f":0.47},{"w":8103,"f":0.346},{"w":8115,"f":0.346},{"w":8124,"f":0.33},
{"w":8132,"f":0.38},{"w":8135,"f":0.363},{"w":8141,"f":0.396},{"w":8146,"f":0.34},{"w":8156,"f":0.33},{"w":8171,"f":0.33},{"w":8186,"f":0.355},{"w":8201,"f":0.33},{"w":8212,"f":0.34},{"w":8223,"f":0.37},{"w":8231,"f":0.34},{"w":8246,"f":0.33},{"w":8265,"f":0.32},{"w":8276,"f":0.38},{"w":8281,"f":1.01},{"w":8286,"f":0.51},{"w":8291,"f":1.06},{"w":8297,"f":0.38},{"w":8304,"f":0.594},{"w":8312,"f":0.33},{"w":8321,"f":0.32},{"w":8332,"f":0.363},{"w":8338,"f":1.6},{"w":8342,"f":0.87},{"w":8347,"f":0.92},{"w":8351,"f":0.445},{"w":8358,"f":0.578},{"w":8364,"f":0.33},{"w":8373,"f":0.346},{"w":8378,"f":0.74},{"w":8384,"f":0.33},{"w":8392,"f":1.6},{"w":8397,"f":0.33},{"w":8409,"f":0.83},{"w":8414,"f":0.38},{"w":8424,"f":1.6},{"w":8429,"f":0.33},{"w":8439,"f":0.643},{"w":8444,"f":0.735},{"w":8448,"f":0.38},{"w":8456,"f":0.346},{"w":8459,"f":1.18},{"w":8465,"f":0.363},{"w":8478,"f":0.314},{"w":8488,"f":0.62},{"w":8493,"f":0.33},{"w":8499,"f":0.88},{"w":8504,"f":0.33},{"w":8515,"f":0.314},{"w":8532,"f":0.47},{"w":8538,"f":0.314},{"w":8542,"f":0.594},{"w":8547,"f":0.346},{"w":8560,"f":0.33},{"w":8572,"f":0.314},{"w":8581,"f":0.445},{"w":8590,"f":0.437},{"w":8598,"f":0.33},{"w":8605,"f":0.545},{"w":8617,"f":0.69},{"w":8624,"f":0.66},{"w":8635,"f":0.429},{"w":8643,"f":0.627},{"w":8650,"f":0.72},{"w":8659,"f":0.69},{"w":8669,"f":0.545},{"w":8677,"f":0.48},{"w":8684,"f":0.38},{"w":8691,"f":0.39},{"w":8699,"f":0.38},{"w":8710,"f":0.34},{"w":8721,"f":0.355},{"w":8733,"f":0.346},{"w":8744,"f":0.363},{"w":8749,"f":0.91},{"w":8755,"f":1.07},{"w":8759,"f":0.91},{"w":8763,"f":1.29},{"w":8766,"f":0.528},{"w":8770,"f":1.6},{"w":8775,"f":1.6},{"w":8778,"f":0.413},{"w":8784,"f":0.75},{"w":8789,"f":0.38},{"w":8800,"f":0.396},{"w":8811,"f":0.545},{"w":8819,"f":1.6},{"w":8823,"f":1.6},{"w":8826,"f":0.445},{"w":8834,"f":0.38},{"w":8843,"f":0.685},{"w":8849,"f":0.363},{"w":8856,"f":0.38},{"w":8860,"f":0.93},{"w":8866,"f":0.462},{"w":8875,"f":1.6},{"w":8881,"f":0.38},{"w":8888,"f":0.396},{"w":8896,"f":0.998},{"w":8903,"f":0.38},{"w":8912,"f":1.6},{"w":8918,"f":0.363},{"w":8924,"f":0.413},{"w":8935,"f":0.95},{"w":8942,"f":0.363},{"w":8950,"f":1.6},{"w":8956,"f":0.38},{"w":8961,"f":0.413},{"w":8971,"f":0.43},{"w":8980,"f":0.974},{"w":8986,"f":0.445},{"w":8995,"f":1.6},{"w":9001,"f":0.363},{"w":9010,"f":0.396},{"w":9021,"f":0.363},{"w":9031,"f":0.627},{"w":9036,"f":0.38},{"w":9041,"f":0.8},{"w":9047,"f":0.38},{"w":9055,"f":0.396},{"w":9062,"f":0.363},{"w":9077,"f":0.38},{"w":9086,"f":0.512},{"w":9092,"f":0.38},{"w":9096,"f":0.61},{"w":9101,"f":0.363},{"w":9115,"f":0.363},{"w":9130,"f":0.346},{"w":9137,"f":0.38},{"w":9143,"f":0.478},{"w":9148,"f":0.445},{"w":9156,"f":0.38},{"w":9175,"f":0.38},{"w":9186,"f":0.396},{"w":9191,"f":0.478},{"w":9197,"f":0.396},{"w":9205,"f":0.445},{"w":9210,"f":0.51},{"w":9216,"f":0.396},{"w":9227,"f":0.43},{"w":9235,"f":0.478},{"w":9242,"f":0.47},{"w":9247,"f":0.43},{"w":9256,"f":0.71},{"w":9261,"f":0.51},{"w":9265,"f":0.545},{"w":9272,"f":0.51},{"w":9277,"f":0.528},{"w":9283,"f":0.553},{"w":9291,"f":0.545}
    ]
  },
  "layer": [
    {
      "data": {"name": "obs"},
      "mark": {"type": "line", "color": "black", "strokeWidth": 5, "strokeJoin": "round", "clip": true},
      "encoding": {
        "x": {"field": "w", "type": "quantitative", "scale": {"domain": [4748, 9294], "nice": false, "zero": false},
          "axis": {"values": [5000, 6000, 7000, 8000, 9000], "format": "d", "labelFontSize": 25, "labelPadding": 8, "title": "Wavelength", "titleFontSize": 33, "titlePadding": 10}},
        "y": {"field": "f", "type": "quantitative", "scale": {"domain": [-1.184, 1.341], "nice": false, "zero": false},
          "axis": {"values": [-1, -0.5, 0, 0.5, 1], "format": ".1f", "labelFontSize": 37, "labelPadding": 10, "title": "10⁻¹⁸ erg s⁻¹ cm⁻² Å⁻¹", "titleFontSize": 46, "titlePadding": 14}}
      }
    },
    {
      "data": {"name": "model"},
      "mark": {"type": "line", "color": "#008000", "strokeWidth": 1.8, "clip": true},
      "encoding": {
        "x": {"field": "w", "type": "quantitative"},
        "y": {"field": "f", "type": "quantitative"}
      }
    },
    {
      "data": {"values": [{"f": 0}]},
      "mark": {"type": "rule", "color": "#0000ff", "strokeWidth": 5},
      "encoding": {
        "y": {"field": "f", "type": "quantitative"}
      }
    }
  ]
}
